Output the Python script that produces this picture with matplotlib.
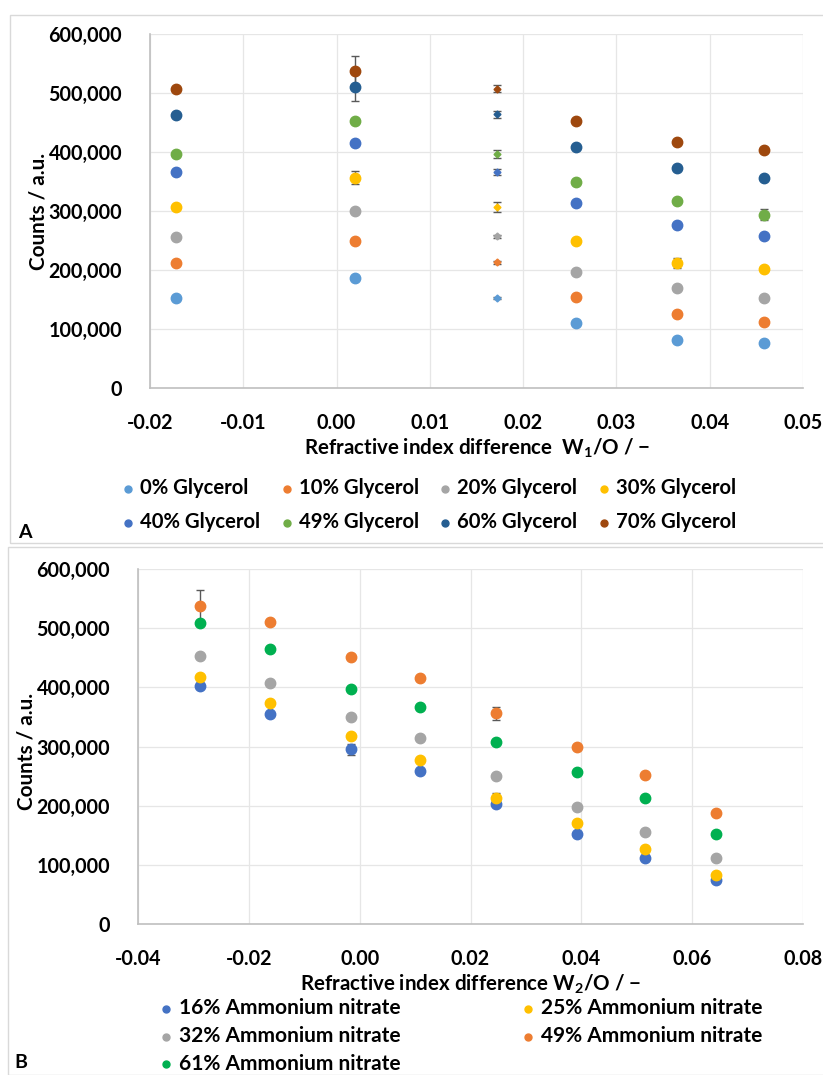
import matplotlib
matplotlib.use("Agg")
import matplotlib.pyplot as plt
from matplotlib.patches import Rectangle
from matplotlib.font_manager import FontProperties
from matplotlib.ticker import FuncFormatter, MultipleLocator

plt.rcParams['font.family'] = ['Lato', 'DejaVu Sans']
plt.rcParams['font.weight'] = 'bold'
plt.rcParams['mathtext.fontset'] = 'custom'
plt.rcParams['mathtext.rm'] = 'Lato:bold'
plt.rcParams['mathtext.it'] = 'Lato:bold'
plt.rcParams['mathtext.bf'] = 'Lato:bold'

# ----------------------------
# Panel A data (glycerol)
# ----------------------------
x_a = [-0.0172, 0.0020, 0.01725, 0.0257, 0.0365, 0.0458]
labels_a = ['0% Glycerol', '10% Glycerol', '20% Glycerol', '30% Glycerol',
            '40% Glycerol', '49% Glycerol', '60% Glycerol', '70% Glycerol']
colors_a = ['#5B9BD5', '#ED7D31', '#A5A5A5', '#FFC000',
            '#4472C4', '#70AD47', '#255E91', '#9E480E']
y_a = [
    [152000, 187000, 153000, 110000, 81000, 76000],
    [212000, 250000, 213000, 154000, 125000, 112000],
    [256000, 300000, 257000, 196000, 169000, 152000],
    [306000, 356000, 307000, 249000, 212000, 202000],
    [366000, 416000, 366000, 314000, 277000, 258000],
    [397000, 452000, 397000, 349000, 317000, 294000],
    [463000, 510000, 464000, 408000, 373000, 356000],
    [506000, 538000, 507000, 453000, 417000, 403000],
]
err_a = [
    [0, 0, 2000, 0, 0, 0],
    [0, 0, 3000, 0, 0, 0],
    [0, 0, 3000, 0, 0, 0],
    [0, 11000, 8000, 0, 9000, 0],
    [0, 0, 5000, 0, 0, 0],
    [0, 0, 7000, 0, 0, 10000],
    [0, 24000, 6000, 0, 0, 0],
    [0, 24000, 6000, 0, 0, 0],
]

# ----------------------------
# Panel B data (ammonium nitrate)
# ----------------------------
x_b = [-0.0289, -0.0161, -0.0016, 0.0109, 0.0246, 0.0393, 0.0515, 0.0643]
labels_b = ['16% Ammonium nitrate', '25% Ammonium nitrate', '32% Ammonium nitrate',
            '49% Ammonium nitrate', '61% Ammonium nitrate']
colors_b = ['#4472C4', '#FFC000', '#A5A5A5', '#ED7D31', '#00B050']
y_b = [
    [403000, 355000, 295000, 258000, 203000, 152000, 112000, 75000],
    [418000, 374000, 318000, 278000, 213000, 170000, 126000, 83000],
    [453000, 408000, 350000, 315000, 250000, 197000, 155000, 111000],
    [538000, 511000, 452000, 416000, 356000, 300000, 251000, 188000],
    [508000, 464000, 398000, 366000, 307000, 257000, 213000, 152000],
]
err_b = [
    [0, 0, 10000, 0, 0, 0, 0, 0],
    [0, 0, 0, 0, 9000, 0, 0, 0],
    [0, 0, 0, 0, 0, 0, 0, 0],
    [26000, 0, 0, 0, 11000, 0, 0, 0],
    [0, 0, 0, 0, 0, 0, 0, 0],
]

xlabel_a = 'Refractive index difference  W$_1$/O / −'
xlabel_b = 'Refractive index difference W$_2$/O / −'

fig = plt.figure(figsize=(8.23, 10.75), dpi=100)
renderer = fig.canvas.get_renderer()


def fit_size(s, target_px, ismath=False):
    # font size (pt) so that the bold text is target_px wide
    fp = FontProperties(family=['Lato', 'DejaVu Sans'], weight='bold', size=10)
    w, h, d = renderer.get_text_width_height_descent(s, fp, ismath=ismath)
    return 10 * target_px / w


tick_fs = fit_size('600,000', 74)
ylab_fs = fit_size('Counts / a.u.', 117)
xlab_fs_a = fit_size(xlabel_a, 348, ismath=True)
xlab_fs_b = fit_size(xlabel_b, 341, ismath=True)
leg_fs_a = fit_size('0% Glycerol', 109)
leg_fs_b = fit_size('16% Ammonium nitrate', 222)

# panel frames
fig.patches.append(Rectangle((10 / 823, 1 - 543 / 1075), 1, 528 / 1075,
                             transform=fig.transFigure, fill=False,
                             edgecolor='#D9D9D9', lw=1))
fig.patches.append(Rectangle((8 / 823, 0), 1, 1 - 547 / 1075,
                             transform=fig.transFigure, fill=False,
                             edgecolor='#D9D9D9', lw=1))

ax1 = fig.add_axes([150 / 823, 1 - 388 / 1075, 653 / 823, 354 / 1075])
ax2 = fig.add_axes([138 / 823, 1 - 924 / 1075, 665 / 823, 355 / 1075])


def style(ax, xmin, xmax, xstep):
    ax.set_xlim(xmin, xmax)
    ax.set_ylim(0, 600000)
    ax.xaxis.set_major_locator(MultipleLocator(xstep))
    ax.yaxis.set_major_locator(MultipleLocator(100000))
    ax.xaxis.set_major_formatter(FuncFormatter(lambda v, p: f'{v:.2f}'))
    ax.yaxis.set_major_formatter(FuncFormatter(lambda v, p: f'{int(v):,}'))
    ax.grid(True, color='#E6E6E6', lw=0.9)
    ax.set_axisbelow(True)
    for s in ['top', 'right']:
        ax.spines[s].set_visible(False)
    for s in ['left', 'bottom']:
        ax.spines[s].set_color('#BFBFBF')
        ax.spines[s].set_linewidth(1.2)
    ax.tick_params(length=0, labelsize=tick_fs)
    ax.tick_params(axis='y', pad=20)
    ax.tick_params(axis='x', pad=18)
    ax.set_ylabel('Counts / a.u.', fontsize=ylab_fs, fontweight='bold')
    ax.yaxis.label.set_va('center')
    ax.xaxis.label.set_va('center')


# ----------------------------
# Panel A
# ----------------------------
style(ax1, -0.02, 0.05, 0.01)
handles_a = []
for ys, es, c, lab in zip(y_a, err_a, colors_a, labels_a):
    big = [i for i in range(len(x_a)) if i != 2]
    ax1.errorbar([x_a[i] for i in big], [ys[i] for i in big],
                 yerr=[es[i] for i in big], fmt='o', ms=7.5, color=c,
                 ecolor='#595959', elinewidth=1, capsize=3, zorder=3)
    ax1.errorbar([x_a[2]], [ys[2]], yerr=[es[2]], fmt='D', ms=3.5, color=c,
                 ecolor='#595959', elinewidth=1, capsize=3, zorder=3)
    handles_a.append(ax1.scatter([], [], s=25, color=c, label=lab))

ax1.set_xlabel(xlabel_a, fontsize=xlab_fs_a, fontweight='bold')
ax1.xaxis.set_label_coords((477 - 150) / 653, -0.17)
ax1.yaxis.set_label_coords(-0.17, 0.5)

order_a = [0, 4, 1, 5, 2, 6, 3, 7]
fig.legend([handles_a[i] for i in order_a], [labels_a[i] for i in order_a],
           ncol=4, loc='center', bbox_to_anchor=(427 / 823, 1 - 505 / 1075),
           frameon=False, prop={'size': leg_fs_a, 'weight': 'bold'},
           handletextpad=0.1, columnspacing=0.8, labelspacing=0.7,
           handlelength=1.0, borderaxespad=0)

# ----------------------------
# Panel B
# ----------------------------
style(ax2, -0.04, 0.08, 0.02)
handles_b = []
for ys, es, c, lab in zip(y_b, err_b, colors_b, labels_b):
    ax2.errorbar(x_b, ys, yerr=es, fmt='o', ms=7.5, color=c,
                 ecolor='#595959', elinewidth=1, capsize=3, zorder=3)
    handles_b.append(ax2.scatter([], [], s=25, color=c, label=lab))

ax2.set_xlabel(xlabel_b, fontsize=xlab_fs_b, fontweight='bold')
ax2.xaxis.set_label_coords((471 - 138) / 665, -0.169)
ax2.yaxis.set_label_coords(-0.167, 0.485)

order_b = [0, 2, 4, 1, 3]
fig.legend([handles_b[i] for i in order_b], [labels_b[i] for i in order_b],
           ncol=2, loc='center', bbox_to_anchor=(459 / 823, 1 - 1036 / 1075),
           frameon=False, prop={'size': leg_fs_b, 'weight': 'bold'},
           handletextpad=0.1, columnspacing=5.6, labelspacing=0.36,
           handlelength=1.0, borderaxespad=0)

fig.text(18 / 823, 1 - 533 / 1075, 'A', fontsize=14, ha='left', va='center')
fig.text(14 / 823, 1 - 1063 / 1075, 'B', fontsize=14, ha='left', va='center')

fig.savefig('out.png', dpi=100)
